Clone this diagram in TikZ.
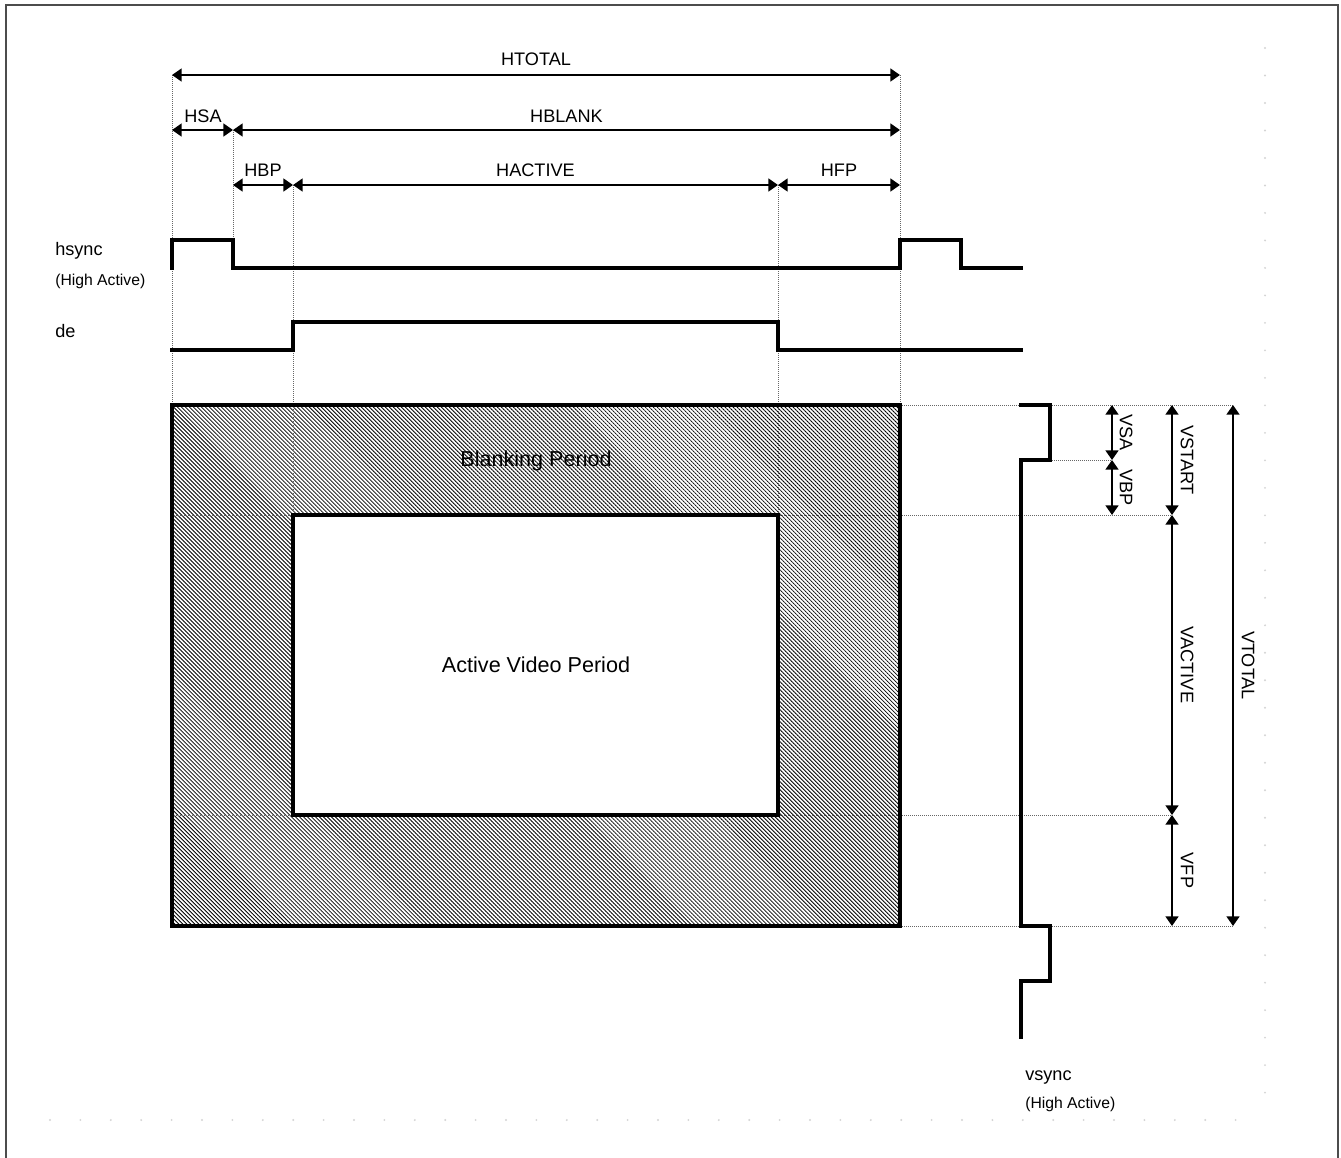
\documentclass[tikz,border=0pt]{standalone}
\usepackage{fontspec}
\setmainfont{Liberation Sans}
\usetikzlibrary{arrows.meta,patterns.meta}
\begin{document}
\begin{tikzpicture}[x=0.75pt,y=-0.75pt,
  sig/.style={line width=2.4pt, line join=miter, line cap=rect},
  dim/.style={line width=1.5pt, {Triangle[length=7.2pt,width=9.6pt]}-{Triangle[length=7.2pt,width=9.6pt]}},
  guide/.style={draw=black!60, line width=0.75pt, dash pattern=on 0.75pt off 0.75pt},
  lbl/.style={font=\fontsize{13.6}{16}\selectfont, inner sep=0pt},
  biglbl/.style={font=\fontsize{16.2}{19}\selectfont, inner sep=0pt},
  small/.style={font=\fontsize{11.8}{14}\selectfont, inner sep=0pt},
  vlbl/.style={lbl, rotate=-90},
  hatch/.style={pattern={Lines[angle=-45,distance=2.12pt,line width=0.62pt]}},
  boxline/.style={line width=2.4pt},
  faint/.style={fill=black!17}
]
\useasboundingbox (0,0) rectangle (1341,1157);
% outer frame (open at the bottom)
\draw[black!70, line width=1.5pt] (6,1170) -- (6,5) -- (1338,5) -- (1338,1170);
% faint grid dots
\foreach \k in {0,...,38} \fill[faint] (1265,{48+\k*27.49}) circle (0.8pt);
\foreach \k in {0,...,39} \fill[faint] ({50+\k*30.4},1120) circle (0.8pt);

% grid coordinates
\coordinate (L) at (172,0);  \coordinate (A) at (233,0);  \coordinate (B) at (293,0);
\coordinate (C) at (778,0);  \coordinate (R) at (900,0);  \coordinate (P2) at (961,0);
\coordinate (E) at (1021,0); \coordinate (Vs) at (1050,0); \coordinate (Xa) at (1112,0);
\coordinate (Xs) at (1172,0); \coordinate (Xt) at (1233,0);
\coordinate (yT) at (0,75);  \coordinate (yB) at (0,130); \coordinate (yA) at (0,185);
\coordinate (hH) at (0,240); \coordinate (hL) at (0,268);
\coordinate (dH) at (0,322); \coordinate (dL) at (0,350);
\coordinate (top) at (0,405); \coordinate (vsa) at (0,460); \coordinate (vbp) at (0,515);
\coordinate (vac) at (0,815); \coordinate (bot) at (0,926); \coordinate (v2) at (0,981);
\coordinate (vend) at (0,1037);

% blanking / active areas
\fill[hatch] (L|-top) rectangle (R|-bot);
\fill[white] (B|-vbp) rectangle (C|-vac);

% guides
\draw[guide] (L|-yT) -- (L|-top);
\draw[guide] (R|-yT) -- (R|-top);
\draw[guide] (A|-yB) -- (A|-hH);
\draw[guide] (B|-yA) -- (B|-vbp);
\draw[guide] (C|-yA) -- (C|-vbp);
\draw[guide] (R|-top) -- (Xt|-top);
\draw[guide] (Vs|-vsa) -- (Xa|-vsa);
\draw[guide] (L|-vbp) -- (B|-vbp);
\draw[guide] (C|-vbp) -- (Xs|-vbp);
\draw[guide] (L|-vac) -- (B|-vac);
\draw[guide] (C|-vac) -- (Xs|-vac);
\draw[guide] (R|-bot) -- (Xt|-bot);

% rectangles
\draw[boxline] (L|-top) rectangle (R|-bot);
\draw[boxline] (B|-vbp) rectangle (C|-vac);
\node[biglbl] (blank) at (536,461) {Blanking Period};
\node[biglbl] (active) at (536,665) {Active Video Period};

% horizontal dimensions
\draw[dim] (L|-yT) -- (R|-yT);
\draw[dim] (L|-yB) -- (A|-yB);
\draw[dim] (A|-yB) -- (R|-yB);
\draw[dim] (A|-yA) -- (B|-yA);
\draw[dim] (B|-yA) -- (C|-yA);
\draw[dim] (C|-yA) -- (R|-yA);
\node[lbl] (htotal) at (536,59.5) {HTOTAL};
\node[lbl] (hsa) at (203,116.5) {HSA};
\node[lbl] (hblank) at (566.5,116.5) {HBLANK};
\node[lbl] (hbp) at (263,170.5) {HBP};
\node[lbl] (hactive) at (535.5,170.5) {HACTIVE};
\node[lbl] (hfp) at (839,170.5) {HFP};

% vertical dimensions
\draw[dim] (Xa|-top) -- (Xa|-vsa);
\draw[dim] (Xa|-vsa) -- (Xa|-vbp);
\draw[dim] (Xs|-top) -- (Xs|-vbp);
\draw[dim] (Xs|-vbp) -- (Xs|-vac);
\draw[dim] (Xs|-vac) -- (Xs|-bot);
\draw[dim] (Xt|-top) -- (Xt|-bot);
\node[vlbl] (vsalbl) at (1126,432.5) {VSA};
\node[vlbl] (vbplbl) at (1126,487.5) {VBP};
\node[vlbl] (vstart) at (1187,460) {VSTART};
\node[vlbl] (vactive) at (1187,665) {VACTIVE};
\node[vlbl] (vfp) at (1187,870.5) {VFP};
\node[vlbl] (vtotal) at (1248,665.5) {VTOTAL};

% signals
\draw[sig] (L|-hL) -- (L|-hH) -- (A|-hH) -- (A|-hL) -- (R|-hL) -- (R|-hH) -- (P2|-hH) -- (P2|-hL) -- (E|-hL);
\draw[sig] (L|-dL) -- (B|-dL) -- (B|-dH) -- (C|-dH) -- (C|-dL) -- (E|-dL);
\draw[sig] (E|-top) -- (Vs|-top) -- (Vs|-vsa) -- (E|-vsa) -- (E|-bot) -- (Vs|-bot) -- (Vs|-v2) -- (E|-v2) -- (E|-vend);

% signal names
\node[lbl, anchor=base west] (hsync) at (55,255) {hsync};
\node[small, anchor=base west] (hsyncact) at (55,285) {(High Active)};
\node[lbl, anchor=base west] (de) at (55,337) {de};
\node[lbl, anchor=base west] (vsync) at (1025,1080) {vsync};
\node[small, anchor=base west] (vsyncact) at (1025,1108) {(High Active)};
\end{tikzpicture}
\end{document}
